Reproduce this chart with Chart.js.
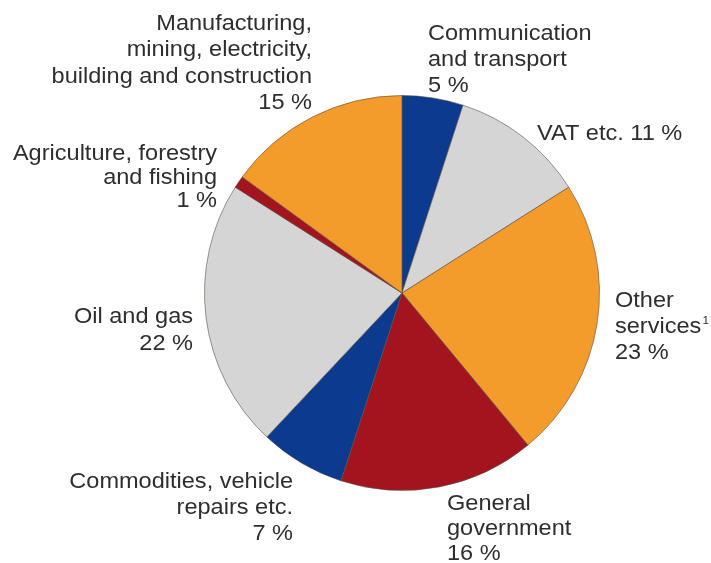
<!DOCTYPE html>
<html lang="en">
<head>
  <meta charset="UTF-8" />
  <title>Pie chart</title>
  <script src="https://cdn.jsdelivr.net/npm/chart.js"></script>
  <style>
    body { margin: 0; background: #fff; }
    canvas { display: block; }
  </style>
</head>
<body>
  <canvas id="pieChart" width="711" height="563"></canvas>

  <script>
    // data, clockwise from 12 o'clock
    const categories = ['Communication and transport', 'VAT etc.', 'Other services¹', 'General government',
      'Commodities, vehicle repairs etc.', 'Oil and gas', 'Agriculture, forestry and fishing',
      'Manufacturing, mining, electricity, building and construction'];
    const shares = [5, 11, 23, 16, 7, 22, 1, 15];
    const sliceColors = ['#0b3a8e', '#d5d5d5', '#f39b2b', '#a3141e', '#0b3a8e', '#d5d5d5', '#a3141e', '#f39b2b'];

    // label text split into lines (percent added below)
    const labelLines = [
      ['Communication', 'and transport'],
      ['VAT etc.'],
      ['Other', 'services¹'],
      ['General', 'government'],
      ['Commodities, vehicle', 'repairs etc.'],
      ['Oil and gas'],
      ['Agriculture, forestry', 'and fishing'],
      ['Manufacturing,', 'mining, electricity,', 'building and construction']
    ];

    // label placement relative to pie centre (first baseline)
    const labelPos = [
      { dx: 26, dy: -253, align: 'left', lh: 26 },
      { dx: 135, dy: -153, align: 'left', lh: 26, inline: true },
      { dx: 213, dy: 14, align: 'left', lh: 26 },
      { dx: 45, dy: 217, align: 'left', lh: 25 },
      { dx: -109, dy: 195, align: 'right', lh: 26 },
      { dx: -209, dy: 30, align: 'right', lh: 27 },
      { dx: -185, dy: -133, align: 'right', lh: 23.5 },
      { dx: -90, dy: -263, align: 'right', lh: 26.3 }
    ];

    const FONT = '"Liberation Sans", Arial, sans-serif';

    const sliceLabels = {
      id: 'sliceLabels',
      afterDatasetsDraw(chart) {
        const arc = chart.getDatasetMeta(0).data[0];
        if (!arc) return;
        const ctx = chart.ctx;
        ctx.save();
        ctx.fillStyle = '#2e2e2e';
        ctx.textBaseline = 'alphabetic';
        labelLines.forEach((lines, i) => {
          const p = labelPos[i];
          const pct = shares[i] + ' %';
          const all = p.inline ? [lines[0] + ' ' + pct] : lines.concat([pct]);
          ctx.textAlign = p.align;
          all.forEach((t, j) => {
            ctx.save();
            ctx.translate(arc.x + p.dx, arc.y + p.dy + j * p.lh);
            ctx.scale(1.07, 1);
            ctx.font = '22px ' + FONT;
            if (t.endsWith('¹')) {
              // small raised footnote mark
              const base = t.slice(0, -1);
              ctx.fillText(base, 0, 0);
              const w = ctx.measureText(base).width;
              ctx.font = '11px ' + FONT;
              ctx.textAlign = 'left';
              ctx.fillText('1', p.align === 'left' ? w + 1 : 1, -9);
              ctx.textAlign = p.align;
            } else {
              ctx.fillText(t, 0, 0);
            }
            ctx.restore();
          });
        });
        ctx.restore();
      }
    };

    new Chart(document.getElementById('pieChart'), {
      type: 'pie',
      data: {
        labels: categories,
        datasets: [{
          data: shares,
          backgroundColor: sliceColors,
          borderColor: 'rgba(90, 80, 70, 0.6)',
          borderWidth: 1
        }]
      },
      options: {
        responsive: false,
        animation: false,
        layout: { padding: { left: 204, right: 111, top: 95, bottom: 72 } },
        plugins: {
          legend: { display: false },
          tooltip: { enabled: false }
        }
      },
      plugins: [sliceLabels]
    });
  </script>
</body>
</html>
